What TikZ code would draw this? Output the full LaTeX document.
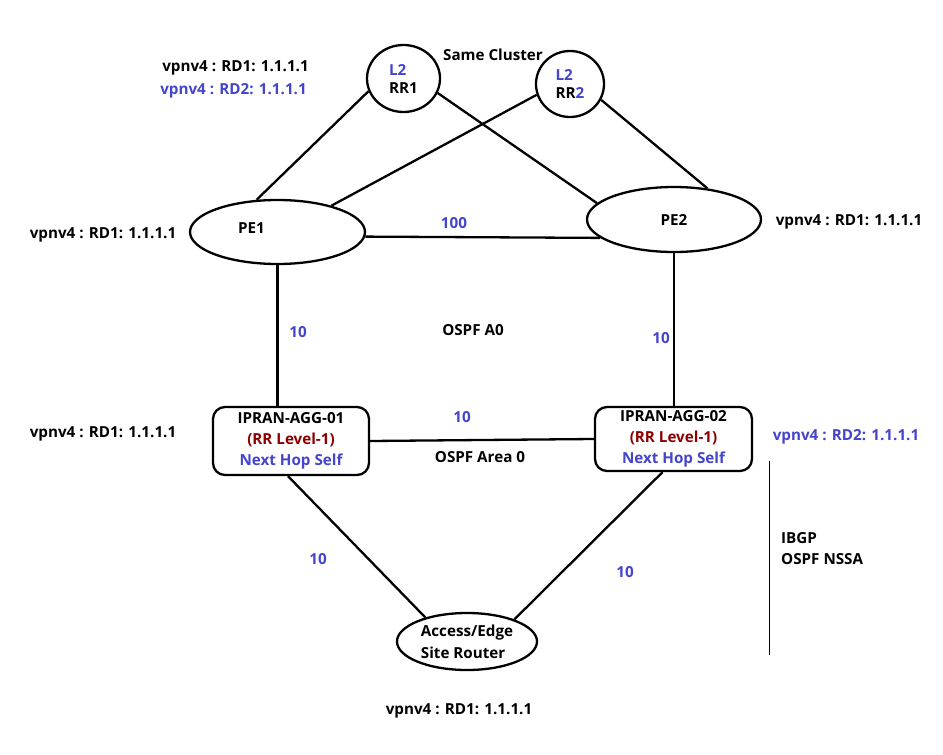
\documentclass[tikz,border=0pt]{standalone}
\usepackage{fontspec}
\setmainfont{Open Sans}
\usepackage{tikz}
\usetikzlibrary{shapes,shapes.geometric,calc}
\usepackage{xcolor}
\definecolor{vpnblue}{RGB}{68,68,204}
\definecolor{lvlred}{RGB}{140,0,0}
\tikzstyle{oval} = [ellipse, draw, line width=2.3pt, inner sep=0pt, align=left]
\tikzstyle{agg} = [rectangle, draw, line width=2.3pt, rounded corners=12pt, align=center, %
inner sep=0pt, font=\fontsize{15.2}{21}\selectfont\bfseries]
\tikzstyle{link} = [draw, line width=2.3pt]
\tikzstyle{lbl} = [inner sep=0pt, font=\fontsize{15.2}{16}\selectfont\bfseries]
\tikzstyle{cost} = [lbl, text=vpnblue]

\begin{document}
\begin{tikzpicture}[x=1pt, y=-1pt, every node/.style={font=\fontsize{15.2}{18}\selectfont\bfseries}]
    \useasboundingbox (0,0) rectangle (943,755);
    \fill[white] (0,0) rectangle (943,755);
    % route reflectors
    \node[oval, minimum width=73pt, minimum height=67pt] (rr1) at (403.5,78.5) {\textcolor{vpnblue}{L2}\\RR1};
    \node[oval, minimum width=68pt, minimum height=66pt] (rr2) at (570,84) {\textcolor{vpnblue}{L2}\\RR\textcolor{vpnblue}{2}};
    \node[lbl] (cluster) at (493,55) {Same Cluster};
    % PE routers
    \node[oval, minimum width=175pt, minimum height=64pt, label={[xshift=-26pt, yshift=4pt]center:PE1}] (pe1) at (277.5,232) {};
    \node[oval, minimum width=174pt, minimum height=65pt] (pe2) at (674,219.5) {PE2};
    % aggregation
    \node[agg, minimum width=156pt, minimum height=68pt] (agg1) at (291,441) {IPRAN-AGG-01\\\textcolor{lvlred}{(RR Level-1)}\\\textcolor{vpnblue}{Next Hop Self}};
    \node[agg, minimum width=157pt, minimum height=64pt] (agg2) at (673.5,439) {IPRAN-AGG-02\\\textcolor{lvlred}{(RR Level-1)}\\\textcolor{vpnblue}{Next Hop Self}};
    % access
    \node[oval, minimum width=140pt, minimum height=57pt, font=\fontsize{15.2}{22}\selectfont\bfseries] (acc) at (467,641.5) {Access/Edge\\Site Router};
    % labels
    \node[lbl] (rdTop) at (235.5,68) {vpnv4 : RD1: 1.1.1.1};
    \node[lbl, text=vpnblue] (rdTopB) at (233.5,91) {vpnv4 : RD2: 1.1.1.1};
    \node[lbl] (rdPE1) at (103,235) {vpnv4 : RD1: 1.1.1.1};
    \node[lbl] (rdPE2) at (849,222) {vpnv4 : RD1: 1.1.1.1};
    \node[lbl] (rdAgg1) at (103,434) {vpnv4 : RD1: 1.1.1.1};
    \node[lbl, text=vpnblue] (rdAgg2) at (846,437) {vpnv4 : RD2: 1.1.1.1};
    \node[lbl] (rdAcc) at (459,711) {vpnv4 : RD1: 1.1.1.1};
    \node[lbl] (ospfA0) at (473,330) {OSPF A0};
    \node[lbl] (ospfArea) at (480,457) {OSPF Area 0};
    \node[lbl, align=left, anchor=west, font=\fontsize{15.2}{21}\selectfont\bfseries] (nssa) at (781,549) {IBGP\\OSPF NSSA};
    \node[cost] (cPE) at (454,223) {100};
    \node[cost] (cLeft) at (298,332) {10};
    \node[cost] (cRight) at (661,338) {10};
    \node[cost] (cAgg) at (462,417) {10};
    \node[cost] (cAccL) at (318,559) {10};
    \node[cost] (cAccR) at (625,572) {10};
    % draw links
    \path[link] (rr1.200) -- (pe1.123);
    \path[link] (rr1.337) -- (pe2.168);
    \path[link] (rr2.198) -- (pe1.26);
    \path[link] (rr2.333) -- (pe2.43);
    \path[link] (pe1.357) -- (pe2.194);
    \path[link] (pe1.south) -- (pe1.south |- agg1.north);
    \path[link] (pe2.south) -- (pe2.south |- agg2.north);
    \path[link] (agg1.east) -- (agg2.west);
    \path[link] ([xshift=-3pt]agg1.south) -- (acc.150);
    \path[link] ([xshift=-11pt]agg2.south) -- (acc.25);
    % separator
    \coordinate (sepTop) at (769,461);
    \coordinate (sepBot) at (769,655);
    \draw[line width=1pt] (sepTop) -- (sepBot);
\end{tikzpicture}
\end{document}
